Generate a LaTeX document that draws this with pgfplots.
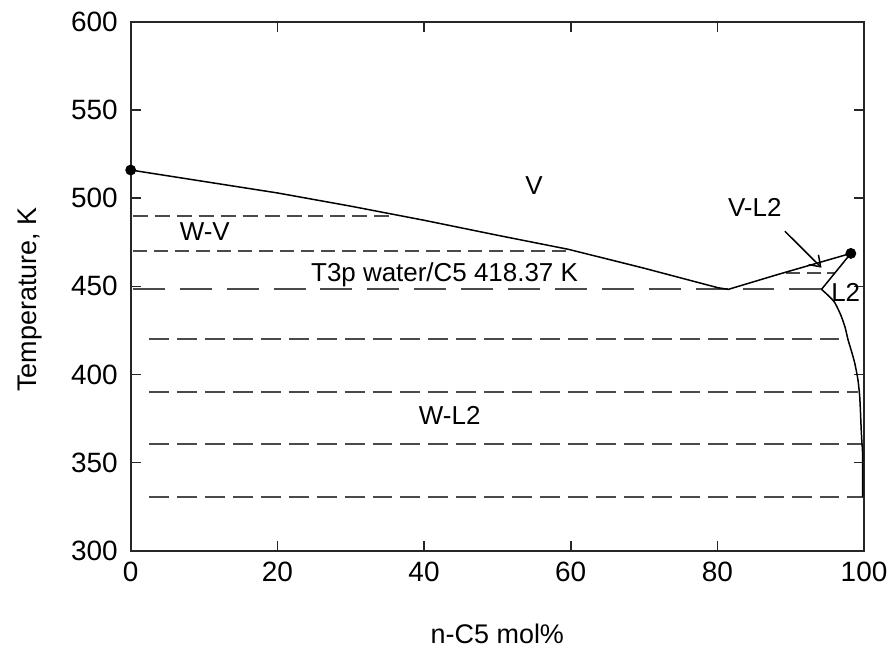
\documentclass[border=0pt]{standalone}
\usepackage{fontspec}
\setmainfont{Liberation Sans}
\usepackage{pgfplots}
\pgfplotsset{compat=1.18}
\usetikzlibrary{arrows.meta}
\definecolor{dashgray}{HTML}{4A4A4A}

\begin{document}
\begin{tikzpicture}
\begin{axis}[
  width=367.5pt, height=265pt, scale only axis,
  xmin=0, xmax=100, ymin=300, ymax=600,
  xtick={0,20,...,100}, ytick={300,350,...,600},
  major tick length=5pt,
  axis line style={line width=1pt, black!85},
  every tick/.style={black!85, line width=0.8pt},
  tick label style={font=\fontsize{14}{16}\selectfont},
  /pgf/number format/assume math mode=true,
  yticklabel style={xshift=-3pt},
  xticklabel style={yshift=-2pt},
  xlabel={n-C5 mol\%}, ylabel={Temperature, K},
  label style={font=\fontsize{13.5}{15}\selectfont},
  xlabel style={at={(axis description cs:0.5,-0.157)}, anchor=center},
  ylabel style={at={(axis description cs:-0.137,0.475)}, anchor=center},
  clip=false]

% isotherms (tie lines)
\addplot[dashgray, line width=1pt, dash pattern=on 7.5pt off 3.5pt] coordinates {(0.3,490) (35.6,490)};
\addplot[dashgray, line width=1pt, dash pattern=on 7pt off 3.5pt] coordinates {(0.3,470) (60,470)};
\addplot[dashgray, line width=1pt, dash pattern=on 16pt off 7.5pt] coordinates {(0.3,448.3) (94.2,448.3)};
\addplot[dashgray, line width=1pt, dash pattern=on 7pt off 3.5pt] coordinates {(89.3,457.8) (96.1,457.8)};
\addplot[dashgray, line width=1pt, dash pattern=on 10pt off 4pt] coordinates {(2.5,420) (97.8,420)};
\addplot[dashgray, line width=1pt, dash pattern=on 10pt off 4pt] coordinates {(2.5,390) (99.2,390)};
\addplot[dashgray, line width=1pt, dash pattern=on 10pt off 4pt] coordinates {(2.5,360.5) (99.75,360.5)};
\addplot[dashgray, line width=1pt, dash pattern=on 10pt off 4pt] coordinates {(2.5,330.4) (99.8,330.4)};

% phase boundaries
\addplot[black, line width=0.75pt] coordinates {
  (0,516) (10,509.5) (20,503) (30,495.5) (40,487.5) (50,479) (59.7,471)
  (70,460.3) (80.1,449.2) (81.5,448.3) (88.3,456.8) (98.2,468.7)};
\addplot[black, line width=0.75pt, smooth, tension=0.4] coordinates {
  (94.2,448.3) (95.2,444.5) (96.0,440.8) (96.8,434) (97.4,427) (97.8,420)
  (98.3,413) (98.7,407) (99.0,401) (99.2,396) (99.4,388) (99.5,380)
  (99.6,370) (99.7,362) (99.8,355) (99.8,330.4)};
\addplot[black, line width=0.75pt] coordinates {(98.2,468.7) (94.2,448.3)};
\addplot[only marks, mark=*, mark size=2.5pt, black] coordinates {(0,516) (98.2,468.7)};

\draw[black, line width=0.75pt, -{Straight Barb[length=5pt, width=7pt]}]
  (axis cs:89.2,481.3) -- (axis cs:94.2,460.6);

\node[font=\fontsize{13}{15}\selectfont] at (axis cs:55,507.2) {V};
\node[font=\fontsize{13}{15}\selectfont] at (axis cs:10.1,481.1) {W-V};
\node[font=\fontsize{13}{15}\selectfont] at (axis cs:42.8,456.8) {T3p water/C5 418.37 K};
\node[font=\fontsize{13}{15}\selectfont] at (axis cs:85.1,494.7) {V-L2};
\node[font=\fontsize{13}{15}\selectfont] at (axis cs:97.5,446.6) {L2};
\node[font=\fontsize{13}{15}\selectfont] at (axis cs:43.5,377) {W-L2};

\path (rel axis cs:-0.1782,-0.1943) rectangle (rel axis cs:1.0381,1.0415);
\end{axis}
\end{tikzpicture}
\end{document}
